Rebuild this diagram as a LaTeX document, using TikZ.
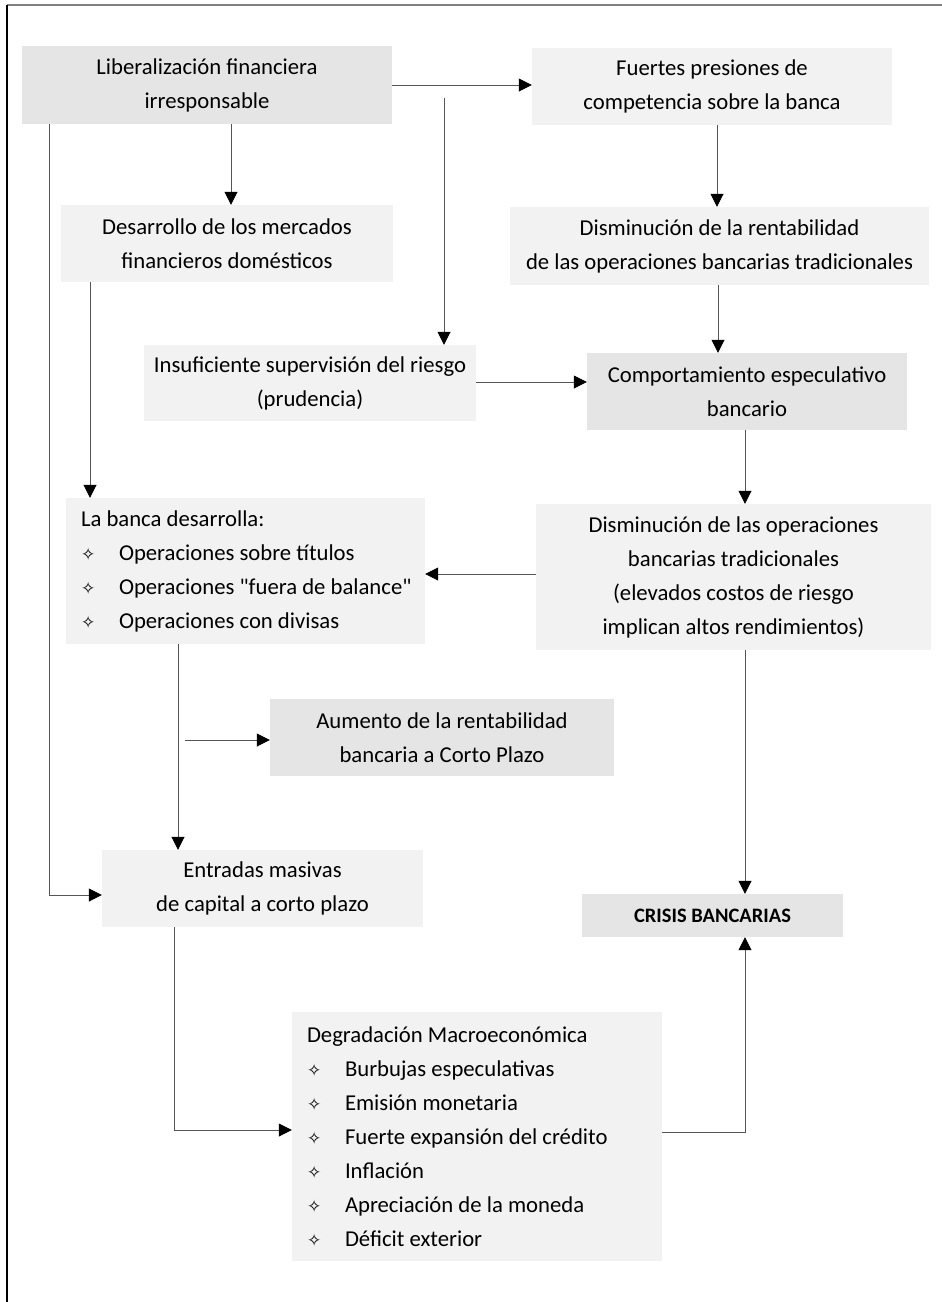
\documentclass[tikz,border=0pt]{standalone}
\usepackage{fontspec}
\setmainfont{Carlito}
\newfontfamily\symfont{DejaVu Sans}
\newfontfamily\plainfont{Carlito}
\usetikzlibrary{arrows.meta}
\definecolor{boxdark}{HTML}{E5E5E5}
\definecolor{boxlight}{HTML}{F2F2F2}
\definecolor{linegray}{HTML}{555555}
\newcommand{\itm}[1]{\mbox{\makebox[38pt][l]{\hspace{0pt}{\symfont\fontsize{17}{17}\selectfont ✧}}#1}}
\newcommand{\dq}{{\plainfont"}}
\begin{document}
\begin{tikzpicture}[x=1pt, y=-1pt,
    box/.style = {fill=#1, inner sep=0pt, font=\fontsize{22.7}{34}\selectfont},
    dark/.style = {box=boxdark, align=center},
    light/.style = {box=boxlight, align=center},
    list/.style = {box=boxlight, align=flush left},
    arr/.style = {draw=linegray, line width=0.8pt, -{Triangle[length=13pt, width=13pt, color=black]}}]
    \useasboundingbox (0,0) rectangle (942,1302);
    \draw[gray, line width=1.5pt] (7,5) -- (942,5);
    \draw[black, line width=1.2pt] (7,5) -- (7,1302);

    \node[dark, minimum width=370pt, minimum height=78pt] (lib) at (207,85) {Liberalización financiera\\irresponsable};
    \node[light, minimum width=360pt, minimum height=77pt] (fue) at (712,86.5) {Fuertes presiones de\\competencia sobre la banca};
    \node[light, minimum width=332pt, minimum height=77pt] (des) at (227,243.5) {Desarrollo de los mercados\\financieros domésticos};
    \node[light, minimum width=419pt, minimum height=78pt] (dre) at (719.5,246) {Disminución de la rentabilidad\\de las operaciones bancarias tradicionales};
    \node[light, minimum width=332pt, minimum height=76pt] (ins) at (310,383) {Insuficiente supervisión del riesgo\\(prudencia)};
    \node[dark, minimum width=320pt, minimum height=77pt] (com) at (747,391.5) {Comportamiento especulativo\\bancario};
    \node[list, text width=329pt, minimum width=359pt, minimum height=146pt] (ban) at (245.5,571) {La banca desarrolla:\\\itm{Operaciones sobre títulos}\\\itm{Operaciones \dq fuera de balance\dq}\\\itm{Operaciones con divisas}};
    \node[light, minimum width=395pt, minimum height=146pt] (dop) at (733.5,577) {Disminución de las operaciones\\bancarias tradicionales\\(elevados costos de riesgo\\implican altos rendimientos)};
    \node[dark, minimum width=344pt, minimum height=77pt] (aum) at (442,737.5) {Aumento de la rentabilidad\\bancaria a Corto Plazo};
    \node[light, minimum width=321pt, minimum height=77pt] (ent) at (262.5,888.5) {Entradas masivas\\de capital a corto plazo};
    \node[dark, minimum width=261pt, minimum height=43pt, font=\fontsize{20.5}{22}\selectfont\bfseries] (cri) at (712.5,915.5) {CRISIS BANCARIAS};
    \node[list, text width=340pt, minimum width=370pt, minimum height=249pt] (deg) at (477,1136.5) {Degradación Macroeconómica\\\itm{Burbujas especulativas}\\\itm{Emisión monetaria}\\\itm{Fuerte expansión del crédito}\\\itm{Inflación}\\\itm{Apreciación de la moneda}\\\itm{Déficit exterior}};

    \coordinate (fork) at (444,98);
    \coordinate (tap) at (185,740);
    \draw[arr] (lib.east) -- (lib.east -| fue.west);
    \draw[arr] (fork) -- (fork |- ins.north);
    \draw[arr] (231,0 |- lib.south) -- (231,0 |- des.north);
    \draw[arr] (49,0 |- lib.south) |- (ent.west |- 0,895);
    \draw[arr] (90,0 |- des.south) -- (90,0 |- ban.north);
    \draw[arr] (717,0 |- fue.south) -- (717,0 |- dre.north);
    \draw[arr] (718,0 |- dre.south) -- (718,0 |- com.north);
    \draw[arr] (ins.east |- 0,382) -- (com.west |- 0,382);
    \draw[arr] (745,0 |- com.south) -- (745,0 |- dop.north);
    \draw[arr] (dop.west |- 0,574) -- (ban.east |- 0,574);
    \draw[arr] (745,0 |- dop.south) -- (745,0 |- cri.north);
    \draw[arr] (178,0 |- ban.south) -- (178,0 |- ent.north);
    \draw[arr] (tap) -- (tap -| aum.west);
    \draw[arr] (174,0 |- ent.south) |- (deg.west |- 0,1130);
    \draw[arr] (deg.east |- 0,1132) -| (745,0 |- cri.south);
\end{tikzpicture}
\end{document}
